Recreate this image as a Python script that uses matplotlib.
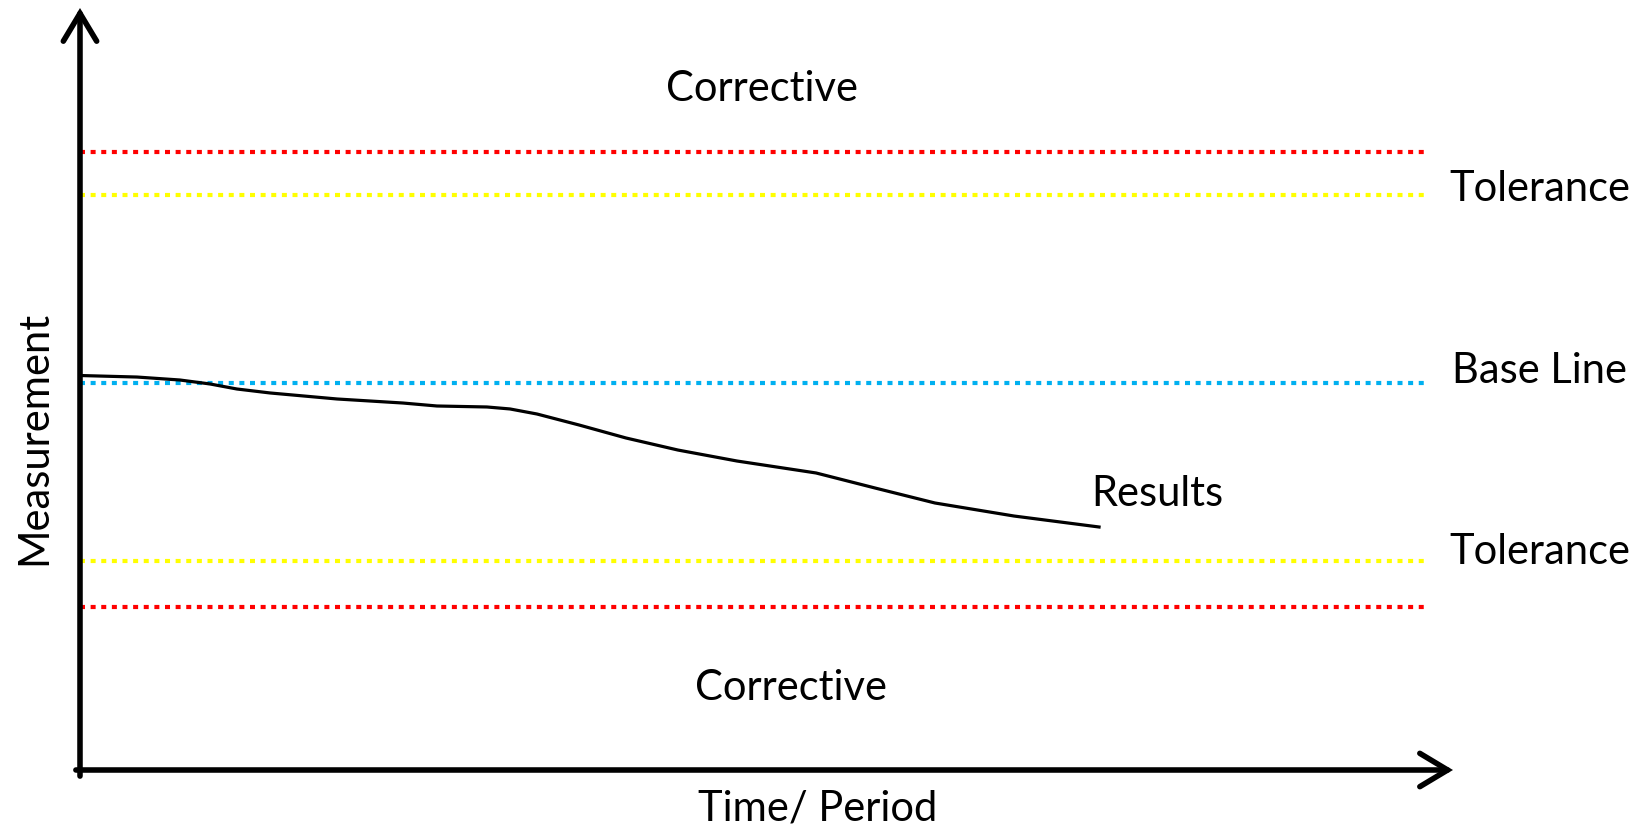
import numpy as np
import matplotlib.pyplot as plt

plt.rcParams['font.family'] = ['Lato', 'DejaVu Sans']

# limit levels (measurement units)
upper_corrective = 81.1
upper_tolerance = 75.5
base_line = 50.8
lower_tolerance = 27.4
lower_corrective = 21.4
line_end = 98.0

# results curve
time_pts = [0.0, 4.15, 7.28, 9.47, 11.43, 13.84, 18.72, 23.52, 26.0, 29.64, 31.32,
            33.28, 36.34, 39.77, 43.55, 47.85, 53.61, 57.9, 62.27, 68.03, 74.22]
result_pts = [51.77, 51.57, 51.18, 50.66, 50.0, 49.48, 48.69, 48.16, 47.77, 47.64, 47.38,
              46.72, 45.28, 43.57, 41.99, 40.55, 38.98, 37.01, 35.04, 33.33, 31.89]

fig = plt.figure(figsize=(16.43, 8.32), dpi=100)
ax = fig.add_axes([80 / 1643, 62 / 832, (1453 - 80) / 1643, (770 - 8) / 832])
ax.set_xlim(0, 100)
ax.set_ylim(0, 100)
ax.axis('off')

dots = (0, (1.2, 1.35))
ax.plot([0, line_end], [upper_corrective] * 2, color='#FF0000', lw=3, ls=dots)
ax.plot([0, line_end], [upper_tolerance] * 2, color='#FFFF00', lw=3, ls=dots)
ax.plot([0, line_end], [base_line] * 2, color='#00B0F0', lw=3, ls=dots)
ax.plot([0, line_end], [lower_tolerance] * 2, color='#FFFF00', lw=3, ls=dots)
ax.plot([0, line_end], [lower_corrective] * 2, color='#FF0000', lw=3, ls=dots)

ax.plot(time_pts, result_pts, color='black', lw=2.3, solid_joinstyle='round')

# axes arrows
arrow = dict(arrowstyle='->,head_length=1.0,head_width=0.6', lw=4, color='black',
             shrinkA=0, shrinkB=0, mutation_scale=20, capstyle='round', joinstyle='miter')
ax.annotate('', xy=(0, 100), xytext=(0, -0.8), arrowprops=arrow, annotation_clip=False)
ax.annotate('', xy=(100, 0), xytext=(-0.3, 0), arrowprops=arrow, annotation_clip=False)

fs = 30
ax.text(49.7, 89.4, 'Corrective', fontsize=fs, ha='center', va='center')
ax.text(51.8, 10.8, 'Corrective', fontsize=fs, ha='center', va='center')
ax.text(106.3, 76.2, 'Tolerance', fontsize=fs, ha='center', va='center', clip_on=False)
ax.text(106.3, 52.4, 'Base Line', fontsize=fs, ha='center', va='center', clip_on=False)
ax.text(106.3, 28.6, 'Tolerance', fontsize=fs, ha='center', va='center', clip_on=False)
ax.text(78.5, 36.2, 'Results', fontsize=fs, ha='center', va='center')
ax.text(-3.35, 43.6, 'Measurement', fontsize=fs, ha='center', va='center', rotation=90, clip_on=False)
ax.text(53.7, -5.1, 'Time/ Period', fontsize=fs, ha='center', va='center', clip_on=False)

plt.savefig('out.png', dpi=100)
